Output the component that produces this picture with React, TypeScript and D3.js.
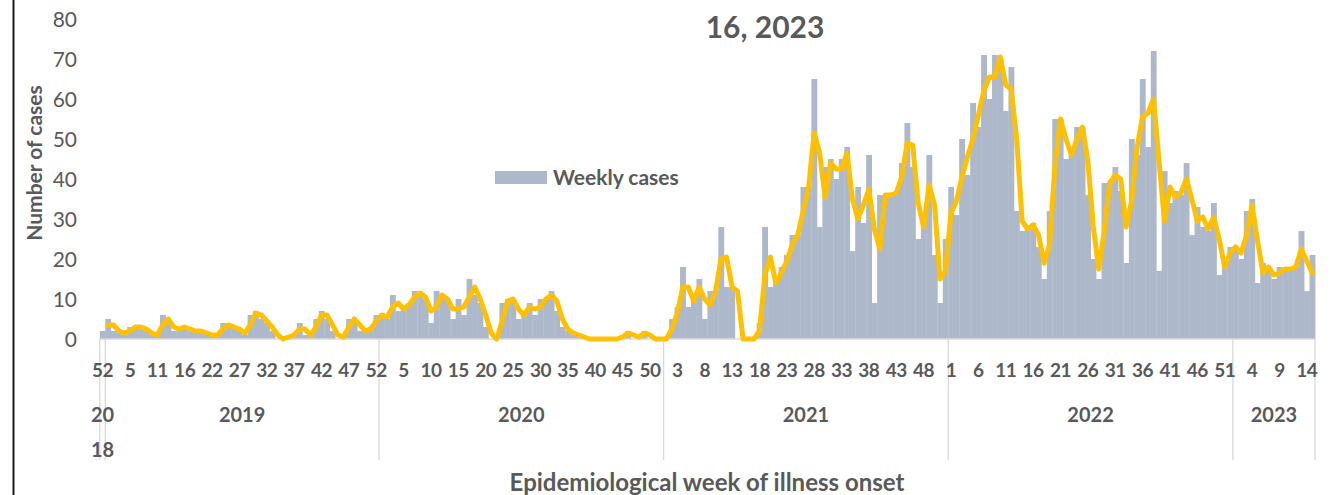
import * as d3 from "d3";

// weekly case counts, one array per year (2018 holds only week 52)
const weeks2018 = [52];
const weeks2019 = d3.range(1, 53).filter((w) => w !== 8 && w !== 19);
const weeks2020 = d3.range(1, 53);
const weeks2021 = d3.range(1, 53);
const weeks2022 = d3.range(1, 53);
const weeks2023 = d3.range(1, 16);

const cases2018 = [2];
const cases2019 = [5,2,2,1,3,3,3,2,1,1,6,4,2,3,3,2,2,2,1,1,1,4,3,3,2,1,6,7,5,4,2,0,0,1,1,4,1,1,5,7,5,2,0,1,5,5,2,2,3,6];
const cases2020 = [6,5,11,7,8,9,12,11,10,4,12,10,10,5,10,6,15,11,9,3,0,0,9,10,10,5,7,9,6,10,10,12,7,3,2,1,1,0,0,0,0,0,0,0,1,2,0,1,2,0,0,0];
const cases2021 = [0,5,8,18,8,11,15,5,12,12,28,13,13,0,0,0,0,4,28,13,15,18,21,26,26,38,38,65,28,43,45,40,45,48,22,38,29,46,9,36,36,36,37,44,54,43,25,31,46,21,9,25];
const cases2022 = [38,31,50,41,59,53,71,60,71,70,57,68,32,27,28,29,23,15,32,55,55,45,47,53,53,36,20,15,39,39,43,37,19,50,46,65,48,72,17,42,34,37,36,44,26,33,28,27,34,16,20,23];
const cases2023 = [23,20,32,35,14,19,17,15,18,17,18,18,27,12,21];

// yellow line (2-week average)
const avg2018 = [null];
const avg2019 = [3.5,3.5,2,1.5,2,3,3,2.5,1.5,1,3.5,5,3,2.5,3,2.5,2,2,1.5,1,1,2.5,3.5,3,2.5,1.5,3.5,6.5,6,4.5,3,1,0,0.5,1,2.5,2.5,1,3,6,6,3.5,1,0.5,3,5,3.5,2,2.5,4.5];
const avg2020 = [6,5.5,8,9,7.5,8.5,10.5,11.5,10.5,7,8,11,10,7.5,7.5,8,10.5,13,10,6,1.5,0,4.5,9.5,10,7.5,6,8,7.5,8,10,11,9.5,5,2.5,1.5,1,0.5,0,0,0,0,0,0,0.5,1.5,1,0.5,1.5,1,0,0];
const avg2021 = [0,2.5,6.5,13,13,9.5,13,10,8.5,12,20,20.5,13,12,0,0,0,2,16,20.5,14,16.5,19.5,23.5,26,32,38,51.5,46.5,35.5,44,42.5,42.5,46.5,35,30,33.5,37.5,27.5,22.5,36,36,36.5,40.5,49,48.5,34,28,38.5,33.5,15,17];
const avg2022 = [31.5,34.5,40.5,45.5,50,56,62,65.5,65.5,70.5,63.5,62.5,50,29.5,27.5,28.5,26,19,23.5,43.5,55,50,46,50,53,44.5,28,17.5,27,39,41,40,28,34.5,48,55.5,56.5,60,44.5,29.5,38,35.5,36.5,40,35,29.5,30.5,27.5,30.5,25,18,21.5];
const avg2023 = [23,21.5,26,33.5,24.5,16.5,18,16,16.5,17.5,17.5,18,22.5,19.5,16.5];

const yearNames = ["20 18", "2019", "2020", "2021", "2022", "2023"];
const yearWeeks = [weeks2018, weeks2019, weeks2020, weeks2021, weeks2022, weeks2023];
const yearCases = [cases2018, cases2019, cases2020, cases2021, cases2022, cases2023];
const yearAvg = [avg2018, avg2019, avg2020, avg2021, avg2022, avg2023];
const yTicks = [0, 10, 20, 30, 40, 50, 60, 70, 80];

const FONT = "Lato, 'Open Sans', sans-serif";
const GREY = "#595959";

export default function App() {
  const width = 1337;
  const height = 495;
  const left = 99.8;
  const right = 1315;
  const base = 339;
  const top = 19;

  const rows: { week: number; cases: number; avg: number | null }[] = [];
  const groups: { name: string; start: number; end: number }[] = [];
  yearWeeks.forEach((wk, yi) => {
    const start = rows.length;
    wk.forEach((w, i) => rows.push({ week: w, cases: yearCases[yi][i], avg: yearAvg[yi][i] }));
    groups.push({ name: yearNames[yi], start, end: rows.length });
  });

  const x = d3.scaleBand<number>().domain(d3.range(rows.length)).range([left, right]).padding(0);
  const y = d3.scaleLinear().domain([0, 80]).range([base, top]);
  const bw = x.bandwidth();
  const edge = (i: number) => left + i * bw;

  const line = d3
    .line<{ avg: number | null }>()
    .defined((d) => d.avg != null)
    .x((_, i) => (x(i) as number) + bw / 2)
    .y((d) => y(d.avg as number));

  return (
    <svg
      width={width}
      height={height}
      style={{ position: "absolute", left: 0, top: 0, background: "#fff" }}
      fontFamily={FONT}
    >
      <line x1={13.5} x2={13.5} y1={0} y2={height} stroke="#1a1a1a" strokeWidth={2} />

      <text x={765} y={38} textAnchor="middle" fontSize={30} fontWeight="bold" fill={GREY}>
        16, 2023
      </text>

      {yTicks.map((t) => (
        <text key={t} x={77} y={y(t) + 7.5} textAnchor="end" fontSize={21} fill={GREY}>
          {t}
        </text>
      ))}
      <text
        transform={`translate(42,163) rotate(-90)`}
        textAnchor="middle"
        fontSize={21}
        fontWeight="bold"
        fill={GREY}
      >
        Number of cases
      </text>

      {rows.map((d, i) => (
        <rect
          key={i}
          x={x(i) as number}
          y={y(d.cases)}
          width={bw + 0.4}
          height={base - y(d.cases)}
          fill="#adb9ca"
        />
      ))}

      <line x1={left} x2={right} y1={base} y2={base} stroke="#d9d9d9" strokeWidth={1.5} />
      {[...groups.map((g) => g.start), rows.length].map((i) => (
        <line key={i} x1={edge(i)} x2={edge(i)} y1={base} y2={460} stroke="#d9d9d9" strokeWidth={1.3} />
      ))}

      <path d={line(rows) || ""} fill="none" stroke="#ffc000" strokeWidth={5} strokeLinejoin="round" strokeLinecap="round" />

      {rows.map((d, i) =>
        i % 5 === 0 ? (
          <text key={i} x={(x(i) as number) + bw / 2} y={377} textAnchor="middle" fontSize={19} fontWeight="bold" fill={GREY} letterSpacing={-0.5}>
            {d.week}
          </text>
        ) : null
      )}

      {groups.map((g) => {
        const cx = (edge(g.start) + edge(g.end)) / 2;
        const parts = g.name.split(" ");
        return parts.map((p, k) => (
          <text key={g.name + k} x={cx} y={422 + k * 35} textAnchor="middle" fontSize={20} fontWeight="bold" fill={GREY}>
            {p}
          </text>
        ));
      })}

      <rect x={495} y={171} width={52} height={13} fill="#adb9ca" />
      <text x={553} y={185} fontSize={21} fontWeight="bold" fill={GREY}>
        Weekly cases
      </text>

      <text x={707} y={491} textAnchor="middle" fontSize={24} fontWeight="bold" fill={GREY}>
        Epidemiological week of illness onset
      </text>
    </svg>
  );
}
